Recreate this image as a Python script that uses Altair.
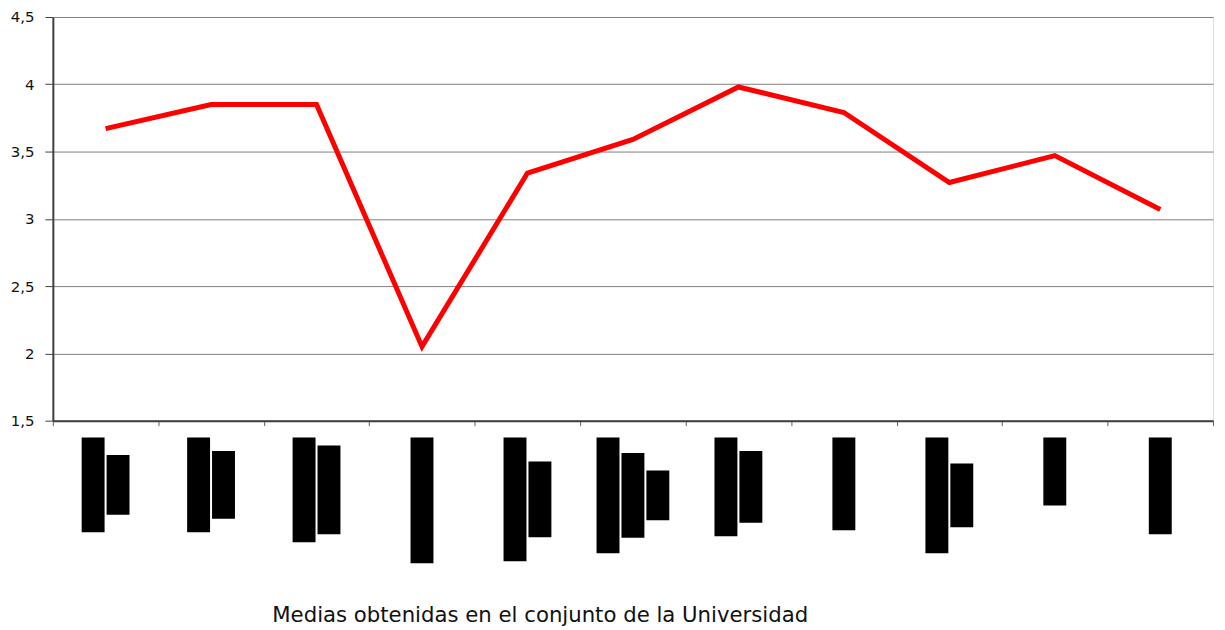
import altair as alt
import pandas as pd

# Categories (their labels are rendered as solid black blocks in the reference)
categories = ["1", "2", "3", "4", "5", "6", "7", "8", "9", "10", "11"]
mean_values = [3.67, 3.85, 3.85, 2.05, 3.34, 3.59, 3.98, 3.79, 3.27, 3.47, 3.07]

# Lengths of each (blacked-out) rotated label line per category
label_line_lengths = [
    [95, 60],
    [95, 68],
    [105, 89],
    [126],
    [124, 76],
    [116, 85, 50],
    [99, 72],
    [93],
    [116, 64],
    [68],
    [97],
]

y_ticks = [1.5, 2.0, 2.5, 3.0, 3.5, 4.0, 4.5]
title_text = "Medias obtenidas en el conjunto de la Universidad"

PLOT_W, PLOT_H = 1164, 405
unit_px = PLOT_W / len(categories)
line_pitch = 25 / unit_px
line_w = 23 / unit_px

line_df = pd.DataFrame({
    "cat": categories,
    "pos": [i + 0.5 for i in range(len(categories))],
    "value": mean_values,
})

rows = []
for i, lens in enumerate(label_line_lengths):
    n = len(lens)
    mx = max(lens)
    for j, L in enumerate(lens):
        c = i + 0.5 + (j - (n - 1) / 2) * line_pitch
        start = (mx - L) / 2
        rows.append({"cat": categories[i], "x0": c - line_w / 2, "x1": c + line_w / 2,
                     "y0": start, "y1": start + L})
rect_df = pd.DataFrame(rows)

xscale = alt.Scale(domain=[0, len(categories)], nice=False, zero=False)

line = alt.Chart(line_df).mark_line(color="#FF0000", strokeWidth=5).encode(
    x=alt.X("pos:Q", scale=xscale,
            axis=alt.Axis(values=list(range(len(categories) + 1)), labels=False, grid=False,
                          tickSize=5, title=None, domainColor="#404040", domainWidth=2,
                          tickColor="#606060", tickWidth=1)),
    y=alt.Y("value:Q", scale=alt.Scale(domain=[1.5, 4.5], nice=False, zero=False),
            axis=alt.Axis(values=y_ticks, grid=True, gridColor="#808080", gridWidth=1,
                          tickSize=8, tickColor="#404040", labelPadding=11,
                          labelExpr="replace(format(datum.value, '~g'), '.', ',')",
                          labelFont="DejaVu Sans", labelFontSize=15, labelColor="#111111",
                          domainColor="#404040", domainWidth=2, title=None)),
)

blocks = alt.Chart(rect_df).mark_rect(color="black").encode(
    x=alt.X("x0:Q", scale=xscale, title=None),
    x2="x1:Q",
    y=alt.Y("y0:Q", axis=None, scale=alt.Scale(domain=[0, 200], range=[422, 622], nice=False, zero=False)),
    y2="y1:Q",
)

chart = alt.layer(line, blocks).resolve_scale(y="independent").properties(
    width=PLOT_W,
    height=PLOT_H,
    autosize=alt.AutoSizeParams(type="none"),
    padding={"left": 45, "top": 8, "right": 4, "bottom": 206},
    title=alt.TitleParams(title_text, orient="bottom", anchor="middle", dx=-93, offset=42,
                          font="DejaVu Sans", fontSize=21.3, fontWeight="normal", color="#111111"),
).configure_view(stroke=None).configure(background="white")

chart.save("out.html", embed_options={"renderer": "svg", "actions": False})
